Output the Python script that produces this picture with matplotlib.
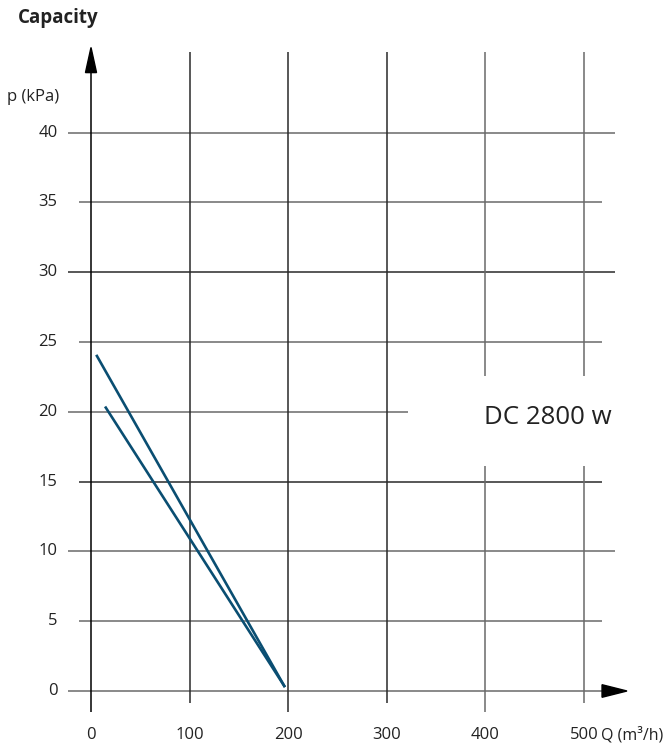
import matplotlib
matplotlib.use("Agg")
import matplotlib.pyplot as plt
from matplotlib.patches import Polygon

plt.rcParams['font.family'] = ['Open Sans', 'DejaVu Sans']

# ---- data ----
title = "Capacity"
y_label = "p (kPa)"
x_label = "Q (m³/h)"
model_label = "DC 2800 w"
x_ticks = [0, 100, 200, 300, 400, 500]
y_ticks = [0, 5, 10, 15, 20, 25, 30, 35, 40]
curve_a_q = [6, 196]
curve_a_p = [24.0, 0.36]
curve_b_q = [15, 196]
curve_b_p = [20.3, 0.36]

W, H = 668, 749
fig = plt.figure(figsize=(W / 100, H / 100), dpi=100)
ax = fig.add_axes([0, 0, 1, 1])
ax.set_xlim(-92.3, 585.2)
ax.set_ylim(-4.155, 49.5)
ax.axis('off')

grid_c = '#6a6a6a'
dark_c = '#2a2a2a'
lw = 1.1

# horizontal grid lines
for v in y_ticks:
    if v == 0:
        continue
    long_ = (v % 10 == 0)
    x0 = -23.3 if long_ else -12.5
    x1 = 531.4 if long_ else 518.0
    if v == 20:
        x1 = 321.5
    c = dark_c if v in (30, 15) else grid_c
    ax.plot([x0, x1], [v, v], color=c, lw=lw, solid_capstyle='butt', zorder=1)

# x axis line (0 line)
ax.plot([-23.3, 520], [0, 0], color=grid_c, lw=lw, solid_capstyle='butt', zorder=1)
ax.add_patch(Polygon([[518.3, 0.45], [543.6, 0], [518.3, -0.45]], closed=True,
                     color='black', zorder=3))

# vertical grid lines
for v in x_ticks:
    if v == 0:
        continue
    bottom = -1.5 if v % 200 == 0 else -0.86
    c = dark_c if v <= 300 else grid_c
    if v >= 400:
        ax.plot([v, v], [bottom, 16.1], color=c, lw=lw, solid_capstyle='butt', zorder=1)
        ax.plot([v, v], [22.6, 45.8], color=c, lw=lw, solid_capstyle='butt', zorder=1)
    else:
        ax.plot([v, v], [bottom, 45.8], color=c, lw=lw, solid_capstyle='butt', zorder=1)

# y axis with arrow
ax.plot([0, 0], [-1.5, 44.5], color='black', lw=lw, solid_capstyle='butt', zorder=2)
ax.add_patch(Polygon([[-5.6, 44.3], [0, 46.1], [5.6, 44.3]], closed=True,
                     color='black', zorder=3))

# curves
line_c = '#0a4e72'
ax.plot(curve_a_q, curve_a_p, color=line_c, lw=1.9, zorder=4)
ax.plot(curve_b_q, curve_b_p, color=line_c, lw=1.9, zorder=4)

# tick labels
fs = 12
for v in y_ticks:
    ax.text(-34, v, str(v), ha='right', va='center', fontsize=fs, color='#222222')
for v in x_ticks:
    ax.text(v, -3.15, str(v), ha='center', va='center', fontsize=fs, color='#222222')

ax.text(517.2, -3.15, x_label, ha='left', va='center', fontsize=11.5, color='#222222')
ax.text(-32.5, 42.55, y_label, ha='right', va='center', fontsize=12, color='#222222')
ax.text(-74, 48.2, title, ha='left', va='center', fontsize=13.5, fontweight='bold',
        color='#222222')
ax.text(398.6, 19.6, model_label, ha='left', va='center', fontsize=18.6, color='#222222')

fig.savefig('out.png', dpi=100)
